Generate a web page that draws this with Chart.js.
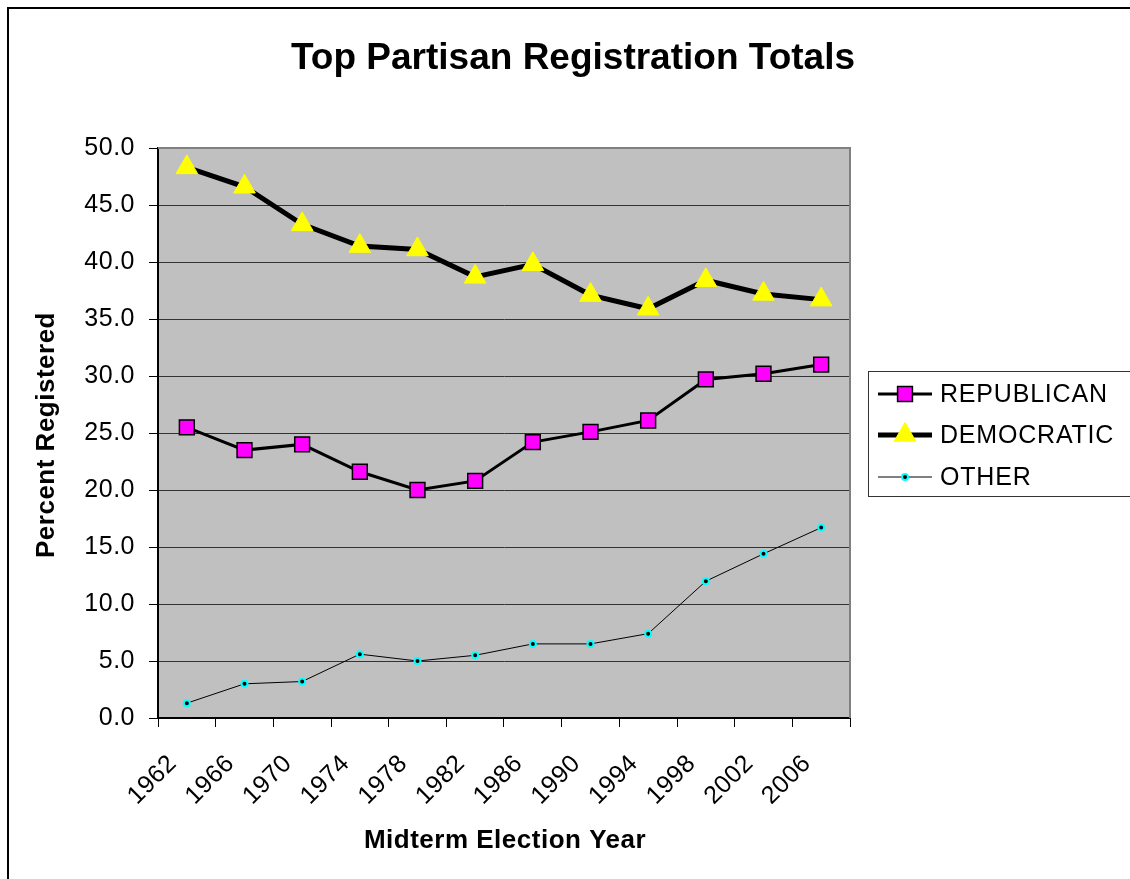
<!DOCTYPE html>
<html lang="en">
<head>
    <meta charset="UTF-8">
    <title>Top Partisan Registration Totals</title>
    <script src="https://cdn.jsdelivr.net/npm/chart.js"></script>
    <style>
        html, body { margin: 0; padding: 0; background: #fff; }
        #chart-container { width: 1130px; height: 879px; }
    </style>
</head>
<body>
    <div id="chart-container">
        <canvas id="myChart" width="1130" height="879"></canvas>
    </div>

    <script>
        // data
        const years = ['1962', '1966', '1970', '1974', '1978', '1982', '1986', '1990', '1994', '1998', '2002', '2006'];
        const republican = [25.5, 23.5, 24.0, 21.6, 20.0, 20.8, 24.2, 25.1, 26.1, 29.7, 30.2, 31.0];
        const democratic = [48.3, 46.6, 43.3, 41.4, 41.1, 38.7, 39.8, 37.1, 35.9, 38.4, 37.2, 36.7];
        const other = [1.3, 3.0, 3.2, 5.6, 5.0, 5.5, 6.5, 6.5, 7.4, 12.0, 14.4, 16.7];

        const FONT = "'Liberation Sans', Arial, sans-serif";
        const PLOT = { left: 158, right: 850, top: 148, bottom: 718 };

        // plot background + outer frame, title, axis titles, legend
        const decor = {
            id: 'decor',
            beforeDraw(chart) {
                const ctx = chart.ctx;
                const a = chart.chartArea;
                ctx.save();
                ctx.fillStyle = '#fff';
                ctx.fillRect(0, 0, chart.width, chart.height);
                ctx.fillStyle = '#C0C0C0';
                ctx.fillRect(a.left, a.top, a.right - a.left, a.bottom - a.top);
                // outer border (left + top only visible)
                ctx.fillStyle = '#000';
                ctx.fillRect(7, 7, 2, chart.height - 7);
                ctx.fillRect(7, 7, chart.width - 7, 2);
                ctx.restore();
                ctx.letterSpacing = '0.5px';
            },
            beforeDatasetsDraw(chart) {
                const ctx = chart.ctx;
                const a = chart.chartArea;
                ctx.save();
                ctx.strokeStyle = '#808080';
                ctx.lineWidth = 2;
                ctx.beginPath();
                ctx.moveTo(a.left, a.top);
                ctx.lineTo(a.right, a.top);
                ctx.lineTo(a.right, a.bottom);
                ctx.stroke();
                ctx.restore();
            },
            afterDraw(chart) {
                const ctx = chart.ctx;
                ctx.save();
                ctx.fillStyle = '#000';
                ctx.textAlign = 'center';
                ctx.textBaseline = 'middle';

                ctx.letterSpacing = '0px';
                ctx.font = 'bold 37px ' + FONT;
                ctx.fillText('Top Partisan Registration Totals', 573, 59);

                ctx.letterSpacing = '0.5px';
                ctx.font = 'bold 26px ' + FONT;
                ctx.fillText('Midterm Election Year', 505, 841);

                ctx.save();
                ctx.translate(47, 435);
                ctx.rotate(-Math.PI / 2);
                ctx.fillText('Percent Registered', 0, 0);
                ctx.restore();

                // legend
                ctx.strokeStyle = '#333';
                ctx.lineWidth = 1;
                ctx.strokeRect(868.5, 371.5, 280, 125);

                const items = [
                    { text: 'REPUBLICAN', ds: chart.data.datasets[0], y: 394 },
                    { text: 'DEMOCRATIC', ds: chart.data.datasets[1], y: 435 },
                    { text: 'OTHER', ds: chart.data.datasets[2], y: 477 }
                ];
                items.forEach(it => {
                    ctx.strokeStyle = it.ds.borderColor;
                    ctx.lineWidth = it.ds.borderWidth;
                    ctx.beginPath();
                    ctx.moveTo(878, it.y);
                    ctx.lineTo(932, it.y);
                    ctx.stroke();
                    ctx.fillStyle = it.ds.pointBackgroundColor;
                    ctx.strokeStyle = it.ds.pointBorderColor;
                    ctx.lineWidth = it.ds.pointBorderWidth;
                    Chart.helpers.drawPoint(ctx, {
                        pointStyle: it.ds.pointStyle,
                        radius: it.ds.pointRadius,
                        rotation: 0,
                        borderWidth: it.ds.pointBorderWidth
                    }, 905, it.y);
                    ctx.fillStyle = '#000';
                    ctx.textAlign = 'left';
                    ctx.letterSpacing = '0.8px';
                    ctx.font = '25px ' + FONT;
                    ctx.fillText(it.text, 940, it.y + 1);
                });
                ctx.restore();
            }
        };

        const config = {
            type: 'line',
            data: {
                labels: years,
                datasets: [{
                    label: 'REPUBLICAN',
                    data: republican,
                    borderColor: '#000',
                    borderWidth: 3,
                    pointStyle: 'rect',
                    pointRadius: 10.5,
                    pointBackgroundColor: '#FF00FF',
                    pointBorderColor: '#000',
                    pointBorderWidth: 1.5,
                    tension: 0
                }, {
                    label: 'DEMOCRATIC',
                    data: democratic,
                    borderColor: '#000',
                    borderWidth: 5,
                    pointStyle: 'triangle',
                    pointRadius: 12.5,
                    pointBackgroundColor: '#FFFF00',
                    pointBorderColor: '#FFFF00',
                    pointBorderWidth: 1,
                    tension: 0
                }, {
                    label: 'OTHER',
                    data: other,
                    borderColor: '#000',
                    borderWidth: 1,
                    pointStyle: 'circle',
                    pointRadius: 3,
                    pointBackgroundColor: '#000',
                    pointBorderColor: '#00FFFF',
                    pointBorderWidth: 2,
                    tension: 0
                }]
            },
            options: {
                responsive: false,
                animation: false,
                devicePixelRatio: 1,
                layout: {
                    padding: { left: 0, top: PLOT.top, right: 1130 - PLOT.right, bottom: 0 }
                },
                plugins: {
                    legend: { display: false },
                    title: { display: false },
                    tooltip: { enabled: false }
                },
                scales: {
                    x: {
                        type: 'category',
                        offset: true,
                        afterFit(scale) { scale.height = 879 - PLOT.bottom; },
                        grid: {
                            offset: true,
                            drawOnChartArea: false,
                            tickLength: 9,
                            tickColor: '#000'
                        },
                        border: { color: '#000', width: 2 },
                        ticks: {
                            autoSkip: false,
                            maxRotation: 45,
                            minRotation: 45,
                            padding: 22,
                            labelOffset: -14,
                            color: '#000',
                            font: { family: FONT, size: 25 }
                        }
                    },
                    y: {
                        min: 0,
                        max: 50,
                        afterFit(scale) { scale.width = PLOT.left; },
                        grid: {
                            color: (c) => (c.tick && c.tick.value === 50 ? '#808080' : '#333'),
                            tickLength: 9,
                            tickColor: '#000'
                        },
                        border: { color: '#000', width: 2 },
                        ticks: {
                            stepSize: 5,
                            padding: 14,
                            color: '#000',
                            font: { family: FONT, size: 25 },
                            callback: (v) => Number(v).toFixed(1)
                        }
                    }
                }
            },
            plugins: [decor]
        };

        const myChart = new Chart(document.getElementById('myChart').getContext('2d'), config);
    </script>
</body>
</html>
